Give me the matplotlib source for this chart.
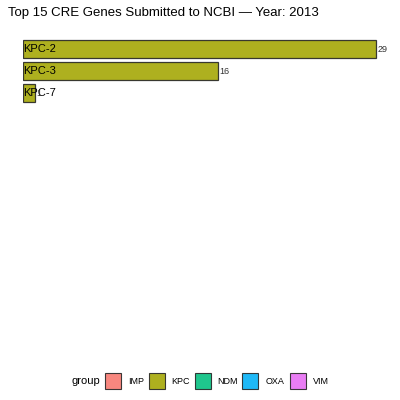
import matplotlib
matplotlib.use("Agg")
import matplotlib.pyplot as plt
from matplotlib.patches import Rectangle

plt.rcParams["font.family"] = ["Liberation Sans", "DejaVu Sans"]

genes = ["KPC-2", "KPC-3", "KPC-7"]
counts = [29, 16, 1]
gene_groups = ["KPC", "KPC", "KPC"]
groups = ["IMP", "KPC", "NDM", "OXA", "VIM"]
group_colors = ["#F8766D", "#A3A500", "#00BF7D", "#00B0F6", "#E76BF3"]
title = "Top 15 CRE Genes Submitted to NCBI \u2014 Year: 2013"
legend_title = "group"
n_slots = 15

cmap = dict(zip(groups, group_colors))
W = H = 400
fig = plt.figure(figsize=(4, 4), dpi=100)
xmax = 30.5
ax = fig.add_axes([23/W, 32/H, (353*xmax/29)/W, 330/H])
ranks = list(range(1, len(genes) + 1))
ax.barh(ranks, counts, height=0.78, color=[cmap[g] for g in gene_groups],
        edgecolor="#222222", linewidth=0.9, alpha=0.88)
for r, g, c in zip(ranks, genes, counts):
    ax.text(0, r, g, ha="left", va="center", fontsize=8, color="black")
    ax.text(c + 0.1, r, str(c), ha="left", va="center", fontsize=6.5, color="#333333")
ax.set_xlim(0, xmax)
ax.set_ylim(n_slots + 0.5, 0.5)
ax.axis("off")

fig.text(8/W, 1 - 13/H, title, ha="left", va="center", fontsize=9.5)

# manual legend
yc = 1 - 381/H
fig.text(71/W, yc, legend_title, ha="left", va="center", fontsize=8)
key_x = [105, 149, 195, 242, 290]
label_x = [128, 171, 217, 266, 313]
for kx, lx, g, c in zip(key_x, label_x, groups, group_colors):
    fig.patches.append(Rectangle((kx/W, yc - 8/H), 16/W, 16/H, transform=fig.transFigure,
                                 facecolor=c, edgecolor="#222222", linewidth=0.8, alpha=0.88))
    fig.text(lx/W, yc, g, ha="left", va="center", fontsize=6.5)

fig.savefig("out.png", dpi=100, facecolor="white")
